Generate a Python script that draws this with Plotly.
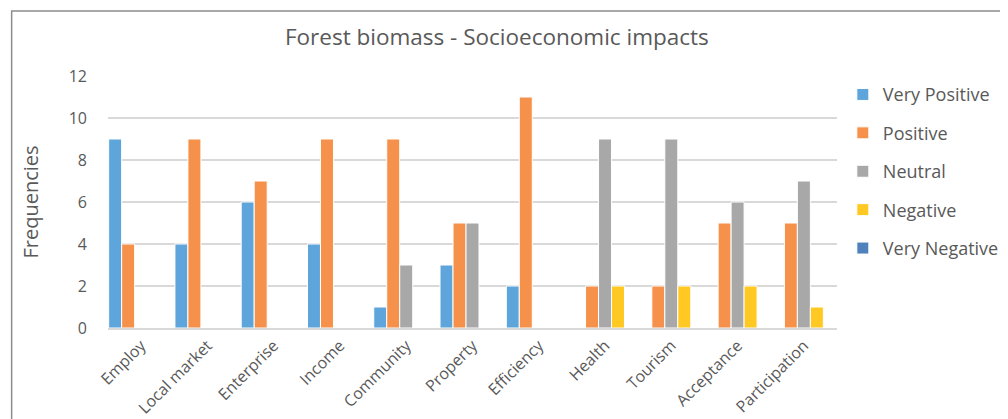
import plotly.graph_objects as go

categories = ["Employ", "Local market", "Enterprise", "Income", "Community", "Property",
              "Efficiency", "Health", "Tourism", "Acceptance", "Participation"]
very_positive = [9, 4, 6, 4, 1, 3, 2, 0, 0, 0, 0]
positive = [4, 9, 7, 9, 9, 5, 11, 2, 2, 5, 5]
neutral = [0, 0, 0, 0, 3, 5, 0, 9, 9, 6, 7]
negative = [0, 0, 0, 0, 0, 0, 0, 2, 2, 2, 1]
very_negative = [0, 0, 0, 0, 0, 0, 0, 0, 0, 0, 0]

series = [
    ("Very Positive", very_positive, "#5DA5DA"),
    ("Positive", positive, "#F5914A"),
    ("Neutral", neutral, "#A8A8A8"),
    ("Negative", negative, "#FFC822"),
    ("Very Negative", very_negative, "#4F81BD"),
]

font_family = "Open Sans, DejaVu Sans, sans-serif"
fig = go.Figure()
for i, (name, vals, color) in enumerate(series):
    fig.add_trace(go.Bar(
        x=categories, y=vals, name=name, legendgroup=str(i),
        marker=dict(color=color, line=dict(color="white", width=1)),
    ))

fig.update_layout(
    width=1008, height=419,
    margin=dict(l=100, r=159, t=68, b=99),
    paper_bgcolor="white", plot_bgcolor="white",
    barmode="group", bargap=0.02, bargroupgap=0,
    font=dict(family=font_family, color="#595959"),
    title=dict(text="Forest biomass - Socioeconomic impacts", x=0.485, xanchor="center",
               y=0.931, yanchor="middle", font=dict(size=22.5, color="#595959")),
    legend=dict(x=1.008, xanchor="left", y=0.999, yanchor="top",
                font=dict(size=18, color="#595959"), tracegroupgap=12,
                traceorder="grouped", itemwidth=30),
    showlegend=True,
)
fig.update_xaxes(tickangle=-45, tickfont=dict(size=16, color="#595959"),
                 showline=True, linecolor="#D9D9D9", linewidth=2, ticks="",
                 showgrid=False, automargin=False)
fig.update_yaxes(range=[0, 12], dtick=2, tickfont=dict(size=16, color="#595959"),
                 gridcolor="#D9D9D9", gridwidth=1.5, zeroline=False, showline=False,
                 ticks="", ticklabelstandoff=20, automargin=False,
                 title=dict(text="Frequencies", font=dict(size=20, color="#595959"), standoff=24))
fig.add_shape(type="rect", xref="paper", yref="paper",
              x0=(1 - 100) / 749, x1=1.5, y0=-0.6, y1=(320 - 3) / 252,
              line=dict(color="#8C8C8C", width=1.5), fillcolor="rgba(0,0,0,0)", layer="below")
fig.write_html("out.html")
